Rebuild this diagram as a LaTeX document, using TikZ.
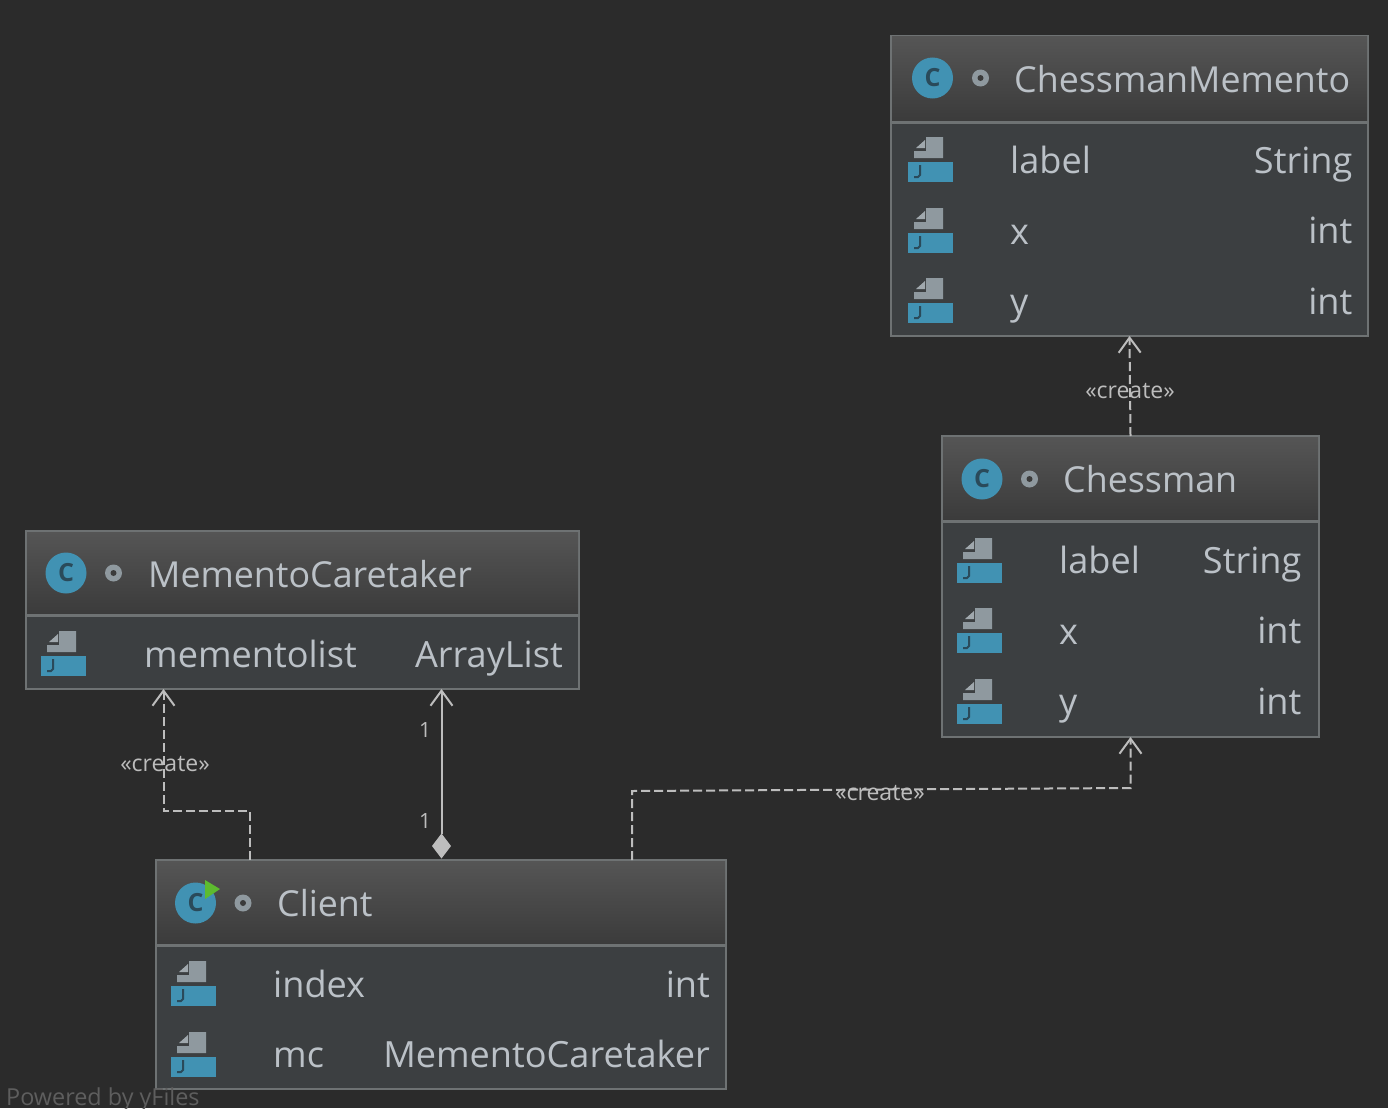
\documentclass[tikz,border=0pt]{standalone}
\usepackage{fontspec}
\setmainfont{Open Sans}
\usetikzlibrary{arrows.meta,shapes.geometric}
\definecolor{bgc}{HTML}{2B2B2B}
\definecolor{bodyc}{HTML}{3C3F41}
\definecolor{edgec}{HTML}{6E7273}
\definecolor{headtop}{HTML}{555555}
\definecolor{headbot}{HTML}{3B3B3B}
\definecolor{txtc}{HTML}{BBC1C7}
\definecolor{linec}{HTML}{BDBDBD}
\definecolor{blueic}{HTML}{4192B3}
\definecolor{darkic}{HTML}{2A4A5A}
\definecolor{grayic}{HTML}{8F999F}
\definecolor{greenic}{HTML}{5DBB2F}
\definecolor{yf}{HTML}{5E5E5E}
\tikzset{
  classbox/.style={draw=edgec,line width=2pt,fill=bodyc,anchor=north west,inner sep=0pt,outer sep=0pt},
  rowtext/.style={text=txtc,font=\fontsize{36.1}{36.1}\selectfont,anchor=base west,inner sep=0pt},
  typetext/.style={text=txtc,font=\fontsize{36.1}{36.1}\selectfont,anchor=base east,inner sep=0pt},
  headtext/.style={text=txtc,font=\fontsize{35.8}{35.8}\selectfont,anchor=base west,inner sep=0pt},
  steretext/.style={text=linec,font=\fontsize{23}{23}\selectfont,inner sep=0pt},
  multtext/.style={text=linec,font=\fontsize{21}{21}\selectfont,inner sep=0pt},
  dep/.style={draw=linec,line width=2pt,dash pattern=on 9pt off 4pt,-{Straight Barb[length=15pt,width=22pt,line width=2pt]}},
  assoc/.style={draw=linec,line width=2pt,-{Straight Barb[length=15pt,width=22pt,line width=2pt]}},
  diam/.style={diamond,fill=linec,draw=none,minimum width=19pt,minimum height=25pt,inner sep=0pt,outer sep=0pt},
  cicon/.style={circle,fill=blueic,minimum size=41pt,inner sep=0pt,text=darkic,font=\bfseries\fontsize{25}{25}\selectfont},
}
% x, y of the blue bar's top-left corner
\newcommand{\fieldicon}[2]{%
  \fill[blueic] (#1,#2) rectangle ++(45,20);
  \fill[grayic] (#1+6,#2-4) -- (#1+6,#2-11) -- (#1+18,#2-11) -- (#1+18,#2-25) -- (#1+35,#2-25) -- (#1+35,#2-4) -- cycle;
  \fill[grayic!85] (#1+8,#2-14) -- (#1+17,#2-14) -- (#1+17,#2-22) -- cycle;
  \draw[darkic,line width=2pt] (#1+12,#2+3) -- (#1+12,#2+13) -- (#1+10,#2+15) -- (#1+6,#2+15);
}
% x1,y1,x2,y2 (header)
\newcommand{\headfill}[4]{%
  \shade[top color=headtop,bottom color=headbot,draw=none] (#1+1,#2+1) rectangle (#3-1,#4-1);
  \draw[edgec,line width=3pt] (#1,#4) -- (#3,#4);
}
\begin{document}
\begin{tikzpicture}[x=1pt,y=-1pt]
\useasboundingbox (0,0) rectangle (1388,1108);
\fill[bgc] (0,0) rectangle (1388,1108);

% class boxes
\node[classbox,minimum width=477pt,minimum height=300pt] (cm) at (891,36) {};
\node[classbox,minimum width=377pt,minimum height=301pt] (ch) at (942,436) {};
\node[classbox,minimum width=553pt,minimum height=158pt] (mc) at (26,531) {};
\node[classbox,minimum width=570pt,minimum height=229pt] (cl) at (156,860) {};
\headfill{891}{36}{1368}{122}
\headfill{942}{436}{1319}{521}
\headfill{26}{531}{579}{615}
\headfill{156}{860}{726}{945}

% ChessmanMemento
\node[cicon] (cmi) at (932.5,78) {C};
\fill[grayic] (980.5,78) circle (8.5pt); \fill[headbot] (980.5,78) circle (3pt);
\node[headtext] (cmn) at (1014,92) {ChessmanMemento};
\fieldicon{908}{162}\fieldicon{908}{233}\fieldicon{908}{303}
\node[rowtext] (cmf1) at (1010,173) {label};
\node[typetext] (cmt1) at (1352.5,173) {String};
\node[rowtext] (cmf2) at (1010,244) {x};
\node[typetext] (cmt2) at (1352.5,243.5) {int};
\node[rowtext] (cmf3) at (1010,314) {y};
\node[typetext] (cmt3) at (1352.5,314) {int};

% Chessman
\node[cicon] (chi) at (982,479) {C};
\fill[grayic] (1029.5,479) circle (8.5pt); \fill[headbot] (1029.5,479) circle (3pt);
\node[headtext] (chn) at (1063,492) {Chessman};
\fieldicon{957}{563}\fieldicon{957}{633}\fieldicon{957}{704}
\node[rowtext] (chf1) at (1059,573) {label};
\node[typetext] (cht1) at (1301.5,573) {String};
\node[rowtext] (chf2) at (1059,644) {x};
\node[typetext] (cht2) at (1301.5,643.5) {int};
\node[rowtext] (chf3) at (1059,714) {y};
\node[typetext] (cht3) at (1301.5,714) {int};

% MementoCaretaker
\node[cicon] (mci) at (66,573) {C};
\fill[grayic] (113.5,573) circle (8.5pt); \fill[headbot] (113.5,573) circle (3pt);
\node[headtext] (mcn) at (148,587) {MementoCaretaker};
\fieldicon{41}{656}
\node[rowtext] (mcf1) at (144,667) {mementolist};
\node[typetext] (mct1) at (563,667) {ArrayList};

% Client
\node[cicon] (cli) at (195.5,903) {C};
\fill[greenic] (205,880) -- (220,889) -- (205,899) -- cycle;
\fill[grayic] (243,903) circle (8.5pt); \fill[headbot] (243,903) circle (3pt);
\node[headtext] (cln) at (277,916.5) {Client};
\fieldicon{171}{986}\fieldicon{171}{1057}
\node[rowtext] (clf1) at (273,997) {index};
\node[typetext] (clt1) at (710,997) {int};
\node[rowtext] (clf2) at (273,1067) {mc};
\node[typetext] (clt2) at (710,1067) {MementoCaretaker};

% connector ends
\coordinate (p1) at (250,860);
\coordinate (p1a) at (250,811);
\coordinate (p1b) at (163.5,811);
\coordinate (p1c) at (163.5,689);
\coordinate (p2) at (632,860);
\coordinate (p2a) at (632,791);
\coordinate (p2b) at (1130.5,788);
\coordinate (p2c) at (1130.5,737);
\coordinate (p3c) at (441.5,689);
\node[diam] (dm) at (441.5,846) {};

\draw[dep] (ch.north) -- (cm.south);
\draw[dep] (p1) -- (p1a) -- (p1b) -- (p1c);
\draw[dep] (p2) -- (p2a) -- (p2b) -- (p2c);
\draw[assoc] (dm.north) -- (p3c);

\node[steretext] (s1) at (1130,391) {«create»};
\node[steretext] (s2) at (165,764) {«create»};
\node[steretext] (s3) at (880,793) {«create»};
\node[multtext] (m1) at (425,730) {1};
\node[multtext] (m2) at (425,821) {1};

\node[text=yf,font=\fontsize{23.4}{23.4}\selectfont,anchor=base west,inner sep=0pt] (yf) at (6,1105) {Powered by yFiles};
\end{tikzpicture}
\end{document}
